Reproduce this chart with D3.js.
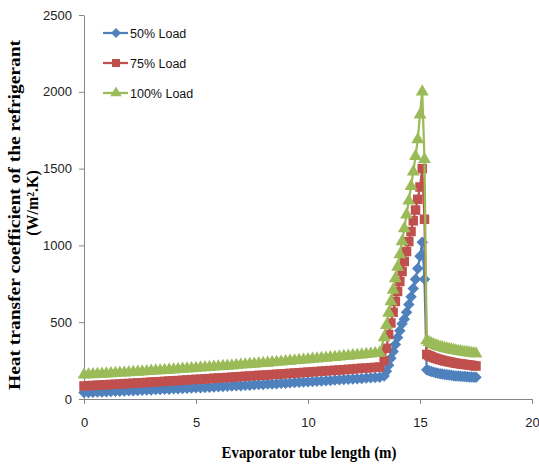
<!DOCTYPE html>
<html>
<head>
<meta charset="utf-8">
<script src="https://cdn.jsdelivr.net/npm/d3@7"></script>
<style>
  body { margin: 0; background: #fff; }
  .tick text { font-family: "Liberation Sans", Arial, sans-serif; font-size: 13px; fill: #222; }
</style>
</head>
<body>
<div class="vis-chart"></div>
<script>
// tube length (m)
const xs = [
  0, 0.2, 0.4, 0.6, 0.8, 1, 1.2, 1.4, 1.6, 1.8,
  2, 2.2, 2.4, 2.6, 2.8, 3, 3.2, 3.4, 3.6, 3.8,
  4, 4.2, 4.4, 4.6, 4.8, 5, 5.2, 5.4, 5.6, 5.8,
  6, 6.2, 6.4, 6.6, 6.8, 7, 7.2, 7.4, 7.6, 7.8,
  8, 8.2, 8.4, 8.6, 8.8, 9, 9.2, 9.4, 9.6, 9.8,
  10, 10.2, 10.4, 10.6, 10.8, 11, 11.2, 11.4, 11.6, 11.8,
  12, 12.2, 12.4, 12.6, 12.8, 13, 13.2,
  13.4, 13.5, 13.6, 13.7, 13.8, 13.9, 14, 14.1, 14.2, 14.3,
  14.4, 14.5, 14.6, 14.7, 14.8, 14.9, 15,
  15.1, 15.2,
  15.3, 15.4, 15.5, 15.6, 15.7, 15.8, 15.9, 16, 16.1, 16.2,
  16.3, 16.4, 16.5, 16.6, 16.7, 16.8, 16.9, 17, 17.1, 17.2,
  17.3, 17.4, 17.5
];

const load50 = [
  42, 43, 44, 45, 46, 47, 49, 50, 51, 52,
  53, 54, 56, 57, 58, 59, 61, 62, 63, 64,
  66, 67, 68, 70, 71, 73, 74, 75, 77, 78,
  80, 81, 83, 84, 86, 87, 89, 90, 92, 94,
  95, 97, 98, 100, 102, 103, 105, 107, 109, 110,
  112, 114, 116, 117, 119, 121, 123, 125, 127, 128,
  130, 132, 134, 136, 138, 140, 142,
  150, 180, 220, 265, 310, 355, 400, 445, 490, 520,
  565, 615, 665, 720, 780, 850, 930,
  1020, 780,
  190, 184, 179, 175, 171, 168, 165, 162, 160, 158,
  156, 154, 152, 150, 149, 148, 147, 146, 145, 144,
  143, 142, 141
];

const load75 = [
  85, 87, 88, 90, 91, 93, 95, 96, 98, 100,
  101, 103, 105, 106, 108, 110, 112, 113, 115, 117,
  119, 120, 122, 124, 126, 128, 129, 131, 133, 135,
  137, 138, 140, 142, 144, 146, 148, 150, 152, 154,
  155, 157, 159, 161, 163, 165, 167, 169, 171, 173,
  175, 177, 179, 181, 183, 185, 187, 189, 191, 193,
  195, 198, 200, 202, 204, 206, 208,
  250, 330, 420, 495, 565, 635, 700, 765, 830, 895,
  960, 1025, 1090, 1160, 1230, 1300, 1380,
  1500, 1170,
  290, 282, 276, 270, 265, 260, 256, 252, 248, 245,
  242, 239, 236, 233, 231, 229, 227, 225, 223, 221,
  219, 217, 215
];

const load100 = [
  157, 159, 160, 162, 163, 165, 166, 168, 170, 171,
  173, 175, 176, 178, 180, 182, 184, 185, 187, 189,
  191, 193, 195, 197, 199, 201, 203, 205, 207, 209,
  211, 213, 215, 217, 220, 222, 224, 226, 228, 231,
  233, 235, 238, 240, 242, 245, 247, 250, 252, 255,
  257, 260, 262, 265, 267, 270, 272, 275, 278, 280,
  283, 286, 288, 291, 294, 297, 300,
  400, 480, 560, 635, 710, 785, 860, 940, 1025, 1110,
  1200, 1290, 1385, 1480, 1580, 1690, 1850,
  2000, 1560,
  380, 370, 362, 355, 349, 344, 339, 335, 331, 327,
  324, 321, 318, 315, 312, 310, 307, 305, 303, 301,
  299, 297, 295
];

const seriesNames = ["50% Load", "75% Load", "100% Load"];
const seriesColors = ["#4F81BD", "#C0504D", "#9BBB59"];
const xTicks = [0, 5, 10, 15, 20];
const yTicks = [0, 500, 1000, 1500, 2000, 2500];

const width = 539;
const height = 466;
const axisColor = "#868686";

const svg = d3
  .select(".vis-chart")
  .append("svg")
  .attr("width", width)
  .attr("height", height);

const xScale = d3.scaleLinear().domain([0, 20]).range([84, 532]);
const yScale = d3.scaleLinear().domain([0, 2500]).range([399, 15]);

// axes
const yAxis = svg
  .append("g")
  .attr("transform", "translate(84,0)")
  .call(
    d3.axisLeft(yScale).tickValues(yTicks).tickFormat(d3.format("d"))
      .tickSize(5).tickSizeOuter(0).tickPadding(7)
  );
const xAxis = svg
  .append("g")
  .attr("transform", "translate(0,399)")
  .call(
    d3.axisBottom(xScale).tickValues(xTicks).tickFormat(d3.format("d"))
      .tickSize(5).tickSizeOuter(0).tickPadding(14)
  );
[xAxis, yAxis].forEach((a) => {
  a.select(".domain").attr("stroke", axisColor);
  a.selectAll(".tick line").attr("stroke", axisColor);
});

// marker shapes: diamond = rotated square
const markers = [
  { type: d3.symbolSquare, size: 66, rot: 45 },
  { type: d3.symbolSquare, size: 90, rot: 0 },
  { type: d3.symbolTriangle, size: 72, rot: 0 },
];
const legendMarkers = [
  { type: d3.symbolSquare, size: 50, rot: 45 },
  { type: d3.symbolSquare, size: 64, rot: 0 },
  { type: d3.symbolTriangle, size: 55, rot: 0 },
];

const allSeries = [load50, load75, load100].map((vals, k) => ({
  name: seriesNames[k],
  color: seriesColors[k],
  marker: markers[k],
  points: xs.map((x, i) => ({ x: x, y: vals[i] })),
}));

const line = d3
  .line()
  .x((d) => xScale(d.x))
  .y((d) => yScale(d.y));

allSeries.forEach((s) => {
  const g = svg.append("g");
  g.append("path")
    .attr("d", line(s.points))
    .attr("fill", "none")
    .attr("stroke", s.color)
    .attr("stroke-width", 2.25);
  g.selectAll("path.mk")
    .data(s.points)
    .enter()
    .append("path")
    .attr("class", "mk")
    .attr("d", d3.symbol().type(s.marker.type).size(s.marker.size))
    .attr("transform", (d) =>
      "translate(" + xScale(d.x) + "," + yScale(d.y) + ") rotate(" + s.marker.rot + ")"
    )
    .attr("fill", s.color);
});

// legend
const legend = svg.append("g");
allSeries.forEach((s, i) => {
  const ly = 33 + i * 30;
  const m = legendMarkers[i];
  legend.append("line")
    .attr("x1", 103).attr("x2", 128)
    .attr("y1", ly).attr("y2", ly)
    .attr("stroke", s.color).attr("stroke-width", 2.25);
  legend.append("path")
    .attr("d", d3.symbol().type(m.type).size(m.size)())
    .attr("transform", "translate(116," + ly + ") rotate(" + m.rot + ")")
    .attr("fill", s.color);
  legend.append("text")
    .attr("x", 130).attr("y", ly + 4.5)
    .attr("font-family", "'Liberation Sans', Arial, sans-serif")
    .attr("font-size", 12.5)
    .attr("fill", "#111")
    .text(s.name);
});

// axis titles
svg.append("text")
  .attr("x", 309).attr("y", 458)
  .attr("text-anchor", "middle")
  .attr("font-family", "'Liberation Serif', 'Times New Roman', serif")
  .attr("font-weight", "bold")
  .attr("font-size", 16)
  .attr("textLength", 175)
  .attr("lengthAdjust", "spacingAndGlyphs")
  .text("Evaporator tube length (m)");

const yt = svg.append("g").attr("transform", "translate(20,215) rotate(-90)");
yt.append("text")
  .attr("x", 0).attr("y", 0)
  .attr("text-anchor", "middle")
  .attr("font-family", "'Liberation Serif', 'Times New Roman', serif")
  .attr("font-weight", "bold")
  .attr("font-size", 16)
  .attr("textLength", 350)
  .attr("lengthAdjust", "spacingAndGlyphs")
  .text("Heat transfer coefficient of the refrigerant");
yt.append("text")
  .attr("x", 12).attr("y", 18)
  .attr("text-anchor", "middle")
  .attr("font-family", "'Liberation Serif', 'Times New Roman', serif")
  .attr("font-weight", "bold")
  .attr("font-size", 16)
  .text("(W/m\u00B2.K)");
</script>
</body>
</html>
